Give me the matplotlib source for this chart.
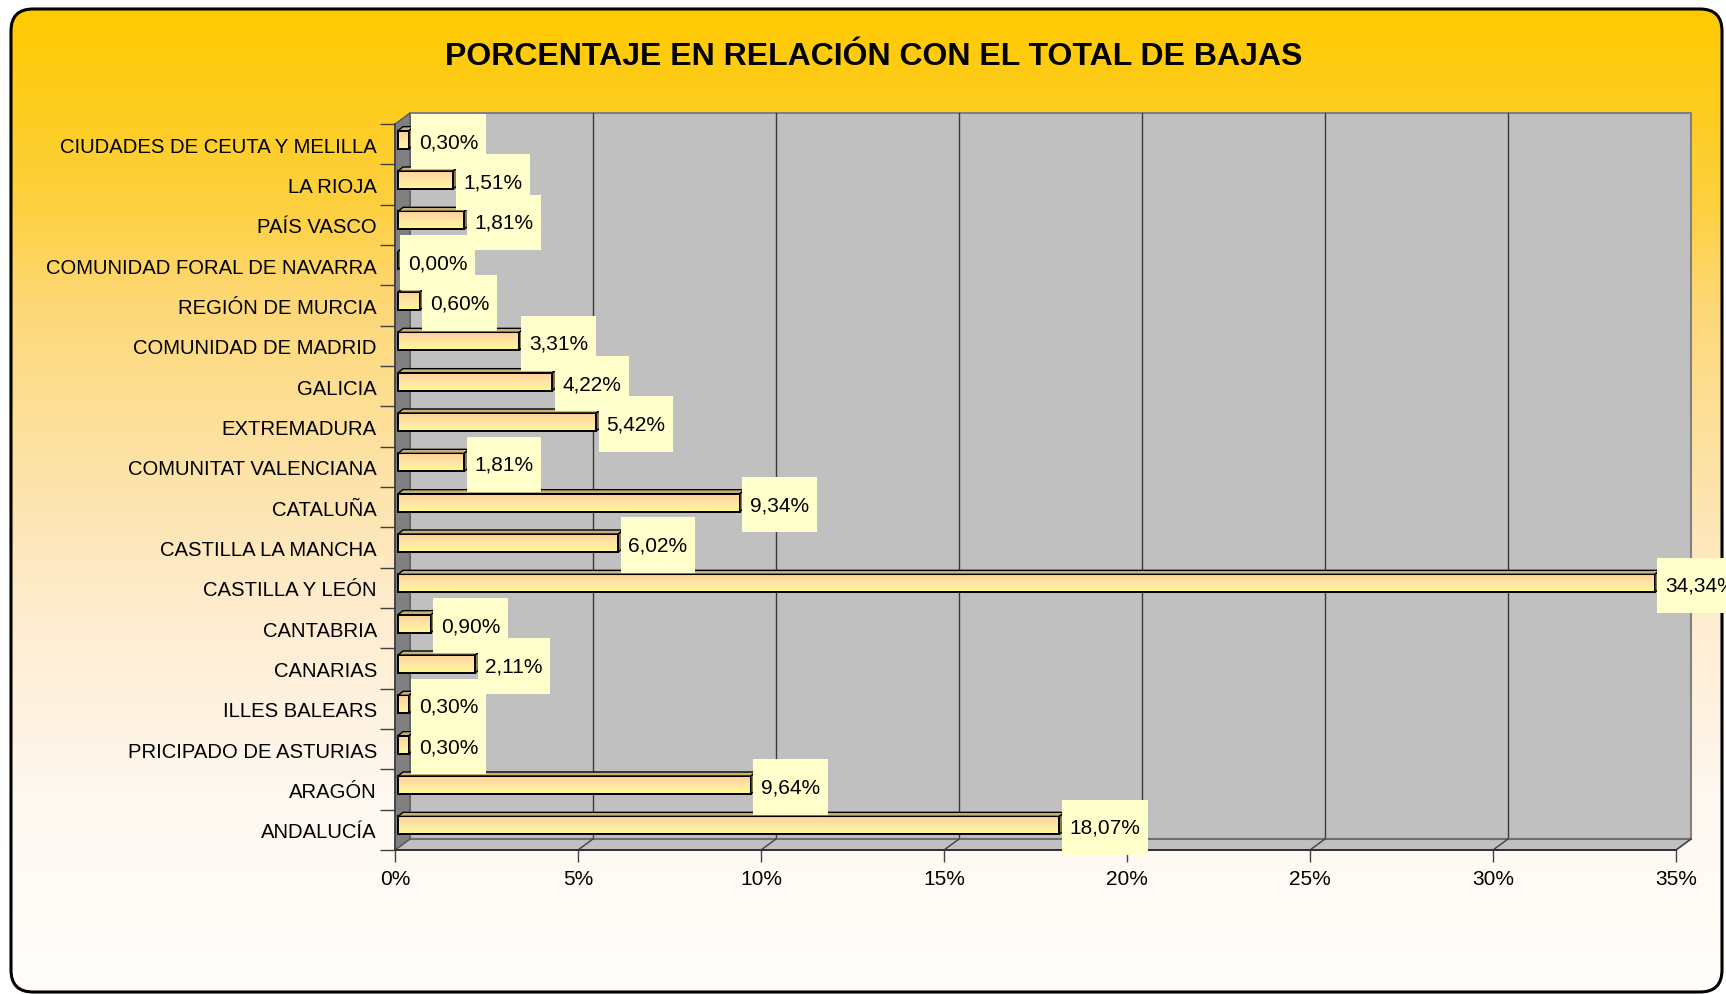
import numpy as np
import matplotlib
matplotlib.use('Agg')
import matplotlib.pyplot as plt
from matplotlib.patches import FancyBboxPatch, Polygon, Rectangle
from matplotlib.path import Path
from matplotlib.colors import to_rgb
from matplotlib.ticker import FuncFormatter

plt.rcParams['font.family'] = ['Liberation Sans', 'DejaVu Sans']

# datos (de abajo hacia arriba, como en Excel)
regiones = ['ANDALUCÍA', 'ARAGÓN', 'PRICIPADO DE ASTURIAS', 'ILLES BALEARS',
            'CANARIAS', 'CANTABRIA', 'CASTILLA Y LEÓN', 'CASTILLA LA MANCHA',
            'CATALUÑA', 'COMUNITAT VALENCIANA', 'EXTREMADURA', 'GALICIA',
            'COMUNIDAD DE MADRID', 'REGIÓN DE MURCIA', 'COMUNIDAD FORAL DE NAVARRA',
            'PAÍS VASCO', 'LA RIOJA', 'CIUDADES DE CEUTA Y MELILLA']
porcentajes = [18.07, 9.64, 0.30, 0.30, 2.11, 0.90, 34.34, 6.02, 9.34, 1.81,
               5.42, 4.22, 3.31, 0.60, 0.00, 1.81, 1.51, 0.30]
x_ticks = [0, 5, 10, 15, 20, 25, 30, 35]
titulo = 'PORCENTAJE EN RELACIÓN CON EL TOTAL DE BAJAS'

W, H = 1726, 995
fig = plt.figure(figsize=(W / 100, H / 100), dpi=100)


def gradient(stops, n=256):
    """columna vertical de colores (arriba -> abajo)"""
    pos = np.array([s[0] for s in stops])
    cols = np.array([to_rgb(s[1]) for s in stops])
    t = np.linspace(0, 1, n)
    arr = np.stack([np.interp(t, pos, cols[:, k]) for k in range(3)], axis=1)
    return arr[:, None, :]


def caja_etiqueta(x0, y0, width, height, mutation_size):
    """caja de la etiqueta: poco margen a los lados, alta"""
    px = 0.37 * mutation_size
    hy = 1.33 * mutation_size
    cy = y0 + height / 2
    l, r = x0 - px, x0 + width + px
    b, t = cy - hy, cy + hy
    return Path([(l, b), (r, b), (r, t), (l, t), (l, b)], closed=True)


# fondo con borde redondeado y degradado dorado
bg = fig.add_axes([0, 0, 1, 1])
bg.set_xlim(0, W)
bg.set_ylim(0, H)
bg.axis('off')
frame = FancyBboxPatch((11, 2), 1711, 983, boxstyle='round,pad=0,rounding_size=22',
                       fc='none', ec='black', lw=2.2, zorder=2)
bg.add_patch(frame)
fondo = gradient([(0, '#FFCA00'), (0.2, '#FDD040'), (0.3, '#FDD878'),
                  (0.6, '#FEEBCB'), (0.8, '#FFF8F0'), (1, '#FFFDFB')])
im = bg.imshow(fondo, extent=(11, 1722, 2, 985), aspect='auto', origin='upper', zorder=1)
im.set_clip_path(frame)

fig.text(874 / W, 1 - 57 / H, titulo, fontsize=23, fontweight='bold',
         ha='center', va='center')

# area del grafico (plano frontal)
ax = fig.add_axes([395 / W, 144 / H, 1281 / W, 726 / H])
ax.patch.set_visible(False)
sx = 1281 / 35.0
sy = 726 / 18.0
ddx, ddy = 15 / sx, 11 / sy   # profundidad de las paredes

# pared del fondo, suelo y pared lateral
ax.add_patch(Rectangle((ddx, -0.5 + ddy), 35, 18, fc='#C0C0C0', ec='#808080',
                       lw=1.5, zorder=0.5, clip_on=False))
for t in x_ticks[1:-1]:
    ax.plot([t + ddx, t + ddx], [-0.5 + ddy, 17.5 + ddy], color='#3A3A3A',
            lw=1.0, zorder=0.6, clip_on=False)
ax.add_patch(Polygon([(0, -0.5), (35, -0.5), (35 + ddx, -0.5 + ddy), (ddx, -0.5 + ddy)],
                     closed=True, fc='#C0C0C0', ec='#808080', lw=1.2, zorder=0.7,
                     clip_on=False))
ax.plot([ddx, 35 + ddx], [-0.5 + ddy, -0.5 + ddy], color='#707070', lw=1.5,
        zorder=0.8, clip_on=False)
for t in x_ticks[1:]:
    ax.plot([t, t + ddx], [-0.5, -0.5 + ddy], color='#404040', lw=1.0,
            zorder=0.8, clip_on=False)
ax.add_patch(Polygon([(0, -0.5), (0, 17.5), (ddx, 17.5 + ddy), (ddx, -0.5 + ddy)],
                     closed=True, fc='#808080', ec='#5A5A5A', lw=1.0, zorder=0.9,
                     clip_on=False))

# barras 3D con degradado
yc = np.arange(len(regiones)) + 4.5 / sy
bars = ax.barh(yc, porcentajes, height=18 / sy, left=3 / sx, fc='none',
               ec='black', lw=1.4, zorder=3)
bar_grad = gradient([(0, '#FFCF98'), (0.5, '#FFE6A6'), (1, '#FFF894')])
bdx, bdy = 5 / sx, 4 / sy
for b, v in zip(bars, porcentajes):
    x0, y0, w, h = b.get_x(), b.get_y(), b.get_width(), b.get_height()
    x1, y1 = x0 + w, y0 + h
    if w > 0:
        ax.imshow(bar_grad, extent=(x0, x1, y0, y1), aspect='auto',
                  origin='upper', zorder=2.5, interpolation='bilinear')
    ax.add_patch(Polygon([(x0, y1), (x1, y1), (x1 + bdx, y1 + bdy), (x0 + bdx, y1 + bdy)],
                         closed=True, fc='#C8B27A', ec='black', lw=1.0, zorder=3.1,
                         clip_on=False))
    ax.add_patch(Polygon([(x1, y0), (x1, y1), (x1 + bdx, y1 + bdy), (x1 + bdx, y0 + bdy)],
                         closed=True, fc='#8C7A50', ec='black', lw=1.0, zorder=3.1,
                         clip_on=False))
    ax.text(x1 + 10 / sx, b.get_y() + h / 2 - 2 / sy, f'{v:.2f}%'.replace('.', ','),
            fontsize=15, ha='left', va='center', zorder=6, clip_on=False,
            bbox=dict(boxstyle=caja_etiqueta, fc='#FFFFCC', ec='none'))

ax.set_xlim(0, 35)
ax.set_ylim(-0.5, 17.5)

# ejes
for s in ['top', 'right']:
    ax.spines[s].set_visible(False)
ax.spines['left'].set_color('#404040')
ax.spines['bottom'].set_color('#303030')
ax.spines['left'].set_linewidth(1.2)
ax.spines['bottom'].set_linewidth(1.4)
ax.spines['left'].set_zorder(1)
ax.spines['bottom'].set_zorder(1)

ax.set_xticks(x_ticks)
ax.xaxis.set_major_formatter(FuncFormatter(lambda v, p: f'{v:.0f}%'))
ax.tick_params(axis='x', length=8.6, width=1.0, color='#404040', labelsize=15, pad=5)
ax.set_yticks(np.arange(len(regiones)))
ax.set_yticklabels(regiones)
ax.tick_params(axis='y', which='major', length=0, labelsize=14.6, pad=13)
ax.set_yticks(np.arange(-0.5, len(regiones)), minor=True)
ax.tick_params(axis='y', which='minor', length=10.8, width=1.0, color='#404040')

plt.savefig('out.png', dpi=100)
plt.close()
